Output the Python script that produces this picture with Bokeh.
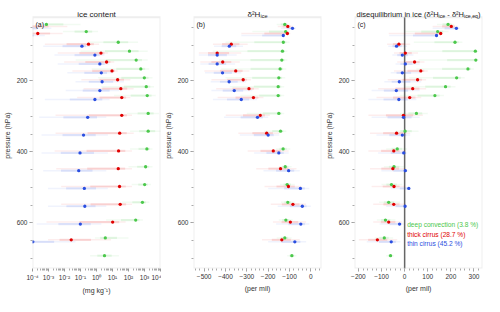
import numpy as np
from bokeh.plotting import figure
from bokeh.models import (Range1d, FixedTicker, CustomJSTickFormatter, Label,
                          ColumnDataSource, BoxAnnotation)
from bokeh.layouts import row
from bokeh.embed import file_html
from bokeh.resources import INLINE

nan = float("nan")

# ---------------- data ----------------
levels = [50, 70, 100, 125, 150, 175, 200, 225, 250, 300, 350, 400, 450, 500, 550, 600, 650, 700]

# panel (a): ice content, log10(mg/kg)
a_green_med = [-3.13, -0.64, 1.36, 2.06, 2.48, 2.77, 2.99, 3.11, 3.17, 3.23, 3.23, 3.15, 3.07, 3.01, 2.87, 2.45, 0.55, 0.5]
a_green_lo = [-3.4, -2.1, -0.5, -1.0, -1.3, -0.3, 0.1, 0.3, 1.1, 1.9, 2.1, 2.1, 2.0, 2.2, 1.6, 0.6, -0.1, -0.4]
a_green_hi = [-1.0, 0.1, 2.6, 3.2, 3.2, 3.3, 3.5, 3.6, 3.7, 3.9, 4.1, 3.5, 3.5, 3.4, 3.3, 2.9, 2.0, 1.4]
a_green_qlo = [-3.27, -1.37, 0.43, 0.53, 0.59, 1.24, 1.55, 1.71, 2.14, 2.57, 2.67, 2.63, 2.54, 2.61, 2.24, 1.53, 0.23, 0.05]
a_green_qhi = [-2.07, -0.27, 1.98, 2.63, 2.84, 3.04, 3.25, 3.36, 3.44, 3.57, 3.67, 3.33, 3.29, 3.21, 3.09, 2.68, 1.28, 0.95]

a_red_med = [-4.5, -3.67, -0.50, 0.28, 0.63, 0.97, 1.32, 1.52, 1.58, 1.58, 1.45, 1.38, 1.36, 1.44, 1.48, 1.01, -1.58, nan]
a_red_lo = [-4.5, -4.3, -3.23, -2.42, -2.02, -1.51, -0.95, -0.81, -1.21, -2.56, -2.56, -2.62, -2.52, -2.21, -2.21, -3.13, -3.03, nan]
a_red_hi = [-1.82, -2.12, 0.16, 0.71, 1.11, 1.32, 2.12, 2.32, 2.12, 2.22, 2.33, 2.22, 2.22, 2.22, 2.22, 1.82, 0.91, nan]
a_red_qlo = [-4.5, -4.0, -1.87, -1.07, -0.70, -0.27, 0.19, 0.36, 0.19, -0.49, -0.56, -0.62, -0.58, -0.39, -0.37, -1.06, -2.31, nan]
a_red_qhi = [-3.0, -2.9, -0.17, 0.50, 0.87, 1.15, 1.72, 1.92, 1.85, 1.90, 1.89, 1.80, 1.79, 1.83, 1.85, 1.42, -0.34, nan]

a_blue_med = [-4.6, -4.4, -0.91, -0.10, 0.21, 0.30, 0.35, 0.21, -0.10, -0.55, -0.81, -1.03, -1.11, -0.76, -0.73, -1.01, -3.98, nan]
a_blue_lo = [-4.5, -4.5, -3.33, -2.63, -2.42, -1.82, -1.31, -1.92, -3.23, -3.58, -3.43, -3.43, -3.33, -3.03, -3.03, -3.74, -4.5, nan]
a_blue_hi = [-2.82, -3.23, -0.40, 0.50, 0.81, 1.01, 1.72, 1.42, 0.81, 0.61, 0.71, 0.71, 0.61, 0.71, 0.61, 0.30, -1.31, nan]
a_blue_qlo = [-4.5, -4.5, -2.12, -1.37, -1.11, -0.76, -0.48, -0.86, -1.67, -2.07, -2.12, -2.23, -2.22, -1.90, -1.88, -2.38, -4.24, nan]
a_blue_qhi = [-3.7, -3.9, -0.66, 0.20, 0.51, 0.66, 1.04, 0.82, 0.36, 0.03, -0.05, -0.16, -0.25, -0.03, -0.06, -0.36, -2.65, nan]

# panel (b): delta2H of ice (per mil)
b_green_med = [-122, -118, -129, -133, -136, -144, -150, -153, -153, -150, -142, -130, -120, -111, -108, -117, -122, -89]
b_green_lo = [-160, -274, -400, -460, -430, -420, -400, -380, -330, -300, -220, -163, -150, -145, -140, -150, -160, -111]
b_green_hi = [-100, -100, -100, -110, -110, -115, -120, -125, -125, -125, -115, -96, -90, -75, -75, -85, -90, -67]
b_green_qlo = [-141, -196, -265, -297, -283, -282, -275, -267, -242, -225, -181, -147, -135, -128, -124, -134, -141, -100]
b_green_qhi = [-111, -109, -115, -122, -123, -130, -135, -139, -139, -138, -129, -113, -105, -93, -92, -101, -106, -78]

b_red_med = [-108, -110, -373, -439, -413, -352, -317, -290, -269, -237, -207, -176, -142, -105, -84, -96, -136, nan]
b_red_lo = [-155, -326, -459, -525, -518, -499, -466, -444, -437, -399, -340, -296, -256, -217, -188, -178, -229, nan]
b_red_hi = [-82, -96, -296, -326, -333, -288, -281, -244, -222, -192, -148, -104, -67, -44, -22, -22, -52, nan]
b_red_qlo = [-132, -218, -416, -482, -466, -426, -392, -367, -353, -318, -274, -236, -199, -161, -136, -137, -183, nan]
b_red_qhi = [-95, -103, -335, -383, -373, -320, -299, -267, -246, -215, -178, -140, -105, -75, -53, -59, -94, nan]

b_blue_med = [-86, -129, -382, -439, -439, -414, -383, -359, -326, -250, -200, -150, -104, -49, -40, -47, -75, nan]
b_blue_lo = [-140, -326, -454, -525, -518, -496, -469, -466, -459, -407, -333, -266, -222, -200, -155, -163, -200, nan]
b_blue_hi = [-70, -126, -318, -348, -355, -326, -303, -274, -252, -200, -148, -104, -52, -7, 0, -7, -22, nan]
b_blue_qlo = [-113, -228, -418, -482, -479, -455, -426, -413, -393, -329, -267, -208, -163, -125, -98, -105, -138, nan]
b_blue_qhi = [-78, -128, -350, -394, -397, -370, -343, -317, -289, -225, -174, -127, -78, -28, -20, -27, -49, nan]

# panel (c): disequilibrium in ice (per mil)
c_green_med = [188, 143, 218, 306, 308, 274, 225, 177, 131, 51, 2, -32, -46, -57, -69, -83, -88, -61]
c_green_lo = [140, 0, 40, 20, 60, 50, 20, 0, -20, -20, -40, -80, -90, -100, -110, -120, -130, -80]
c_green_hi = [215, 190, 250, 320, 320, 300, 260, 220, 170, 100, 60, 10, 0, -10, -20, -40, -50, -46]
c_green_qlo = [164, 72, 129, 163, 184, 162, 123, 89, 56, 16, -19, -56, -68, -79, -90, -102, -109, -71]
c_green_qhi = [202, 167, 234, 313, 314, 287, 243, 199, 151, 76, 31, -11, -23, -34, -45, -62, -69, -54]

c_red_med = [202, 156, -25, 3, 43, 70, 56, 35, 22, -5, -35, -47, -51, -46, -47, -69, -118, nan]
c_red_lo = [121, -69, -76, -46, -32, -46, -73, -115, -122, -157, -150, -157, -150, -143, -136, -136, -198, nan]
c_red_hi = [232, 163, 24, 58, 86, 100, 93, 93, 72, 79, 24, 3, 3, 3, 3, -11, -32, nan]
c_red_qlo = [162, 44, -51, -22, 6, 12, -9, -40, -50, -81, -93, -102, -101, -95, -92, -103, -158, nan]
c_red_qhi = [217, 160, 0, 31, 65, 85, 75, 64, 47, 37, -6, -22, -24, -22, -22, -40, -75, nan]

c_blue_med = [224, 138, -35, -10, 3, -10, -23, -36, -25, -5, -10, -4, 3, 18, 2, -22, -58, nan]
c_blue_lo = [121, -67, -71, -53, -39, -60, -88, -143, -157, -143, -122, -115, -101, -60, -80, -108, -164, nan]
c_blue_hi = [240, 142, 10, 38, 65, 65, 72, 65, 51, 65, 24, 10, 17, 24, 10, -4, -18, nan]
c_blue_qlo = [173, 36, -53, -32, -18, -35, -56, -90, -91, -74, -66, -60, -49, -21, -39, -65, -111, nan]
c_blue_qhi = [232, 140, -13, 14, 34, 28, 25, 15, 13, 30, 7, 3, 10, 21, 6, -13, -38, nan]

legend_labels = ["deep convection (3.8 %)", "thick cirrus (28.7 %)", "thin cirrus (45.2 %)"]
y_major_ticks = [200, 400, 600]
y_minor_ticks = [50, 100, 150, 200, 250, 300, 350, 400, 450, 500, 550, 600, 650, 700]
a_ticks = [1e-4, 1e-3, 1e-2, 1e-1, 1e0, 1e1, 1e2, 1e3, 1e4]
b_ticks = [-500, -400, -300, -200, -100, 0]
c_ticks = [-200, -100, 0, 100, 200, 300]

# ---------------- style ----------------
FONT = "Liberation Sans"
GREEN, RED, BLUE = "#4cc84c", "#e00000", "#2a4ee0"
COLORS = {"green": GREEN, "red": RED, "blue": BLUE}
P_OFFSET = {"green": -8.0, "red": -2.5, "blue": 3.0}
W, H = 161, 296
P_TOP, P_BOT = 22, 728          # visible box of each panel (hPa)
y_range = Range1d(P_BOT, -19.7)  # frame extends above the box to hold the title


def make_fig(x_range, x_axis_type, xlabel):
    p = figure(width=W, height=H, x_range=x_range, y_range=y_range,
               x_axis_type=x_axis_type, output_backend="svg", toolbar_location=None,
               min_border_left=29, min_border_right=1, min_border_top=2,
               min_border_bottom=25)
    p.xgrid.grid_line_color = None
    p.ygrid.grid_line_color = None
    p.outline_line_color = None
    p.background_fill_color = "white"
    p.border_fill_color = "white"
    p.add_layout(BoxAnnotation(top=P_TOP, fill_alpha=0, line_color="#c8c8c8",
                               line_width=2))
    for ax in (p.xaxis[0], p.yaxis[0]):
        ax.axis_line_color = None
        ax.major_tick_line_color = "#999999"
        ax.minor_tick_line_color = "#aaaaaa"
        ax.major_tick_in = 0
        ax.major_tick_out = 3
        ax.minor_tick_in = 0
        ax.minor_tick_out = 2
        ax.major_label_text_font = FONT
        ax.major_label_text_font_size = "6.5px"
        ax.major_label_text_color = "#333333"
        ax.axis_label_text_font = FONT
        ax.axis_label_text_font_size = "7px"
        ax.axis_label_text_font_style = "normal"
        ax.axis_label_text_color = "#333333"
        ax.major_label_standoff = 2
        ax.axis_label_standoff = 3
    p.yaxis.ticker = FixedTicker(ticks=y_major_ticks, minor_ticks=y_minor_ticks)
    p.yaxis.axis_label = "pressure (hPa)"
    p.xaxis.axis_label = xlabel
    return p


def draw(p, data, transform=lambda v: v):
    srcs = {}
    for cat in ("green", "red", "blue"):
        med, lo, hi, qlo, qhi = data[cat]
        y = [lv + P_OFFSET[cat] for lv in levels]
        srcs[cat] = ColumnDataSource(dict(
            y=y,
            med=[transform(v) for v in med],
            lo=[transform(v) for v in lo],
            hi=[transform(v) for v in hi],
            qlo=[transform(v) for v in qlo],
            qhi=[transform(v) for v in qhi]))
    for cat in ("green", "red", "blue"):
        p.segment(x0="lo", y0="y", x1="hi", y1="y", source=srcs[cat],
                  line_color=COLORS[cat], line_alpha=0.07, line_width=1.5)
    for cat in ("green", "red", "blue"):
        p.segment(x0="qlo", y0="y", x1="qhi", y1="y", source=srcs[cat],
                  line_color=COLORS[cat], line_alpha=0.12, line_width=2.2)
    for cat in ("green", "red", "blue"):
        p.scatter(x="med", y="y", source=srcs[cat], size=3.3, marker="circle",
                  fill_color=COLORS[cat], line_color=None)


def add_text(p, x, y, text, size, color="#222222", x_offset=0, y_offset=0,
             align="left", baseline="alphabetic"):
    p.add_layout(Label(x=x, y=y, text=text, x_offset=x_offset, y_offset=y_offset,
                       text_font=FONT, text_font_size=size, text_color=color,
                       text_align=align, text_baseline=baseline))


# ---------------- panel (a) ----------------
pa = make_fig(Range1d(1e-4, 1e4), "log", "(mg kg\u207b\u00b9)")
pa.xaxis.ticker = FixedTicker(
    ticks=a_ticks,
    minor_ticks=[k * 10.0 ** e for e in range(-4, 4) for k in range(2, 10)])
pa.xaxis.formatter = CustomJSTickFormatter(code="""
const sup = {"-":"\u207b","0":"\u2070","1":"\u00b9","2":"\u00b2","3":"\u00b3","4":"\u2074",
             "5":"\u2075","6":"\u2076","7":"\u2077","8":"\u2078","9":"\u2079"};
const e = Math.round(Math.log10(tick));
return "10" + String(e).split("").map(c => sup[c]).join("");
""")
log10 = lambda v: 10.0 ** v
draw(pa, {"green": (a_green_med, a_green_lo, a_green_hi, a_green_qlo, a_green_qhi),
          "red": (a_red_med, a_red_lo, a_red_hi, a_red_qlo, a_red_qhi),
          "blue": (a_blue_med, a_blue_lo, a_blue_hi, a_blue_qlo, a_blue_qhi)}, log10)
add_text(pa, 1.0, P_TOP, "ice content", "8px", align="center", y_offset=3)
add_text(pa, 1e-4, P_TOP, "(a)", "7px", x_offset=3, y_offset=-7, baseline="middle")

# ---------------- panel (b) ----------------
pb = make_fig(Range1d(-550, 50), "linear", "(per mil)")
pb.xaxis.ticker = FixedTicker(ticks=b_ticks, minor_ticks=list(range(-540, 60, 20)))
draw(pb, {"green": (b_green_med, b_green_lo, b_green_hi, b_green_qlo, b_green_qhi),
          "red": (b_red_med, b_red_lo, b_red_hi, b_red_qlo, b_red_qhi),
          "blue": (b_blue_med, b_blue_lo, b_blue_hi, b_blue_qlo, b_blue_qhi)})
add_text(pb, -250, P_TOP, "\u03b4\u00b2H", "8px", x_offset=-10, y_offset=3)
add_text(pb, -250, P_TOP, "ice", "5.5px", x_offset=3, y_offset=1)
add_text(pb, -550, P_TOP, "(b)", "7px", x_offset=3, y_offset=-7, baseline="middle")

# ---------------- panel (c) ----------------
pc = make_fig(Range1d(-217, 337), "linear", "(per mil)")
pc.xaxis.ticker = FixedTicker(ticks=c_ticks, minor_ticks=list(range(-200, 340, 20)))
# zero line, limited to the visible box
pc.segment(x0=[0], y0=[P_TOP], x1=[0], y1=[P_BOT + 10], line_color="#666666",
           line_width=1.5)
draw(pc, {"green": (c_green_med, c_green_lo, c_green_hi, c_green_qlo, c_green_qhi),
          "red": (c_red_med, c_red_lo, c_red_hi, c_red_qlo, c_red_qhi),
          "blue": (c_blue_med, c_blue_lo, c_blue_hi, c_blue_qlo, c_blue_qhi)})
cx = 60
add_text(pc, cx, P_TOP, "disequilibrium in ice (\u03b4\u00b2H", "7.5px", x_offset=-62, y_offset=3)
add_text(pc, cx, P_TOP, "ice", "5.2px", x_offset=20.1, y_offset=1)
add_text(pc, cx, P_TOP, "- \u03b4\u00b2H", "7.5px", x_offset=28.8, y_offset=3)
add_text(pc, cx, P_TOP, "ice,eq", "5.2px", x_offset=45.6, y_offset=1)
add_text(pc, cx, P_TOP, ")", "7.5px", x_offset=59.6, y_offset=3)
add_text(pc, -217, P_TOP, "(c)", "7px", x_offset=3, y_offset=-7, baseline="middle")
for txt, yy, col in zip(legend_labels, [605, 632, 658], [GREEN, RED, BLUE]):
    add_text(pc, 0, yy, txt, "6.6px", color=col, x_offset=2.5, baseline="middle")

layout = row(pa, pb, pc)
with open("out.html", "w", encoding="utf-8") as f:
    f.write(file_html(layout, INLINE))
